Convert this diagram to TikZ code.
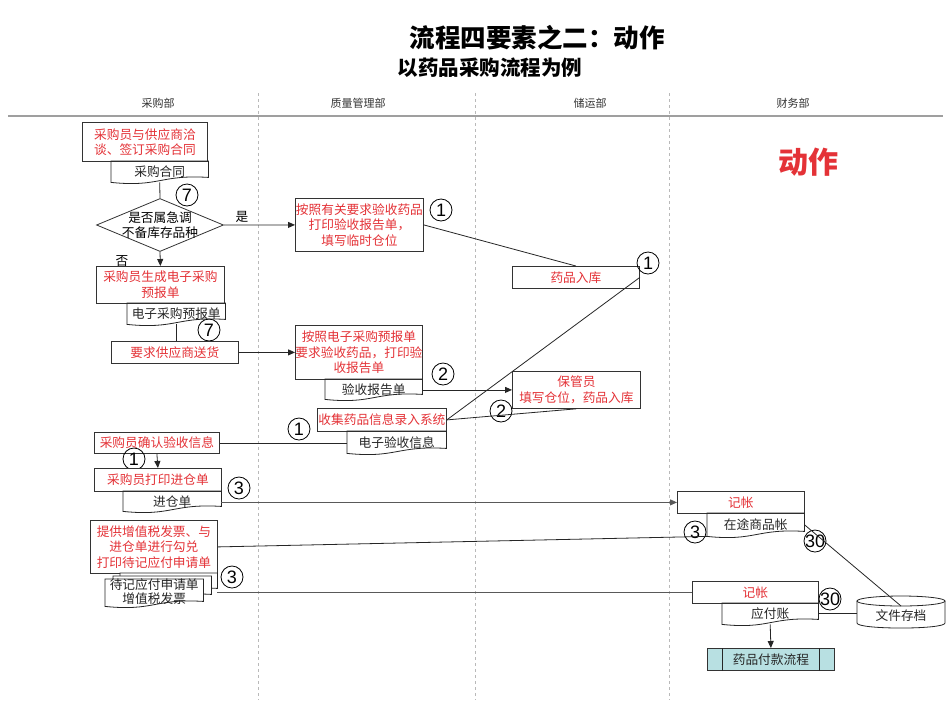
\documentclass[tikz,border=0pt]{standalone}
\usepackage{fontspec}
\newfontfamily\cjk{Noto Sans CJK SC}
\newfontfamily\arial{Liberation Sans}
\usetikzlibrary{shapes.geometric,arrows.meta,calc}
\definecolor{txtred}{RGB}{228,50,55}
\definecolor{procfill}{RGB}{184,224,226}
\newcommand\docout[2][]{\draw[conn,#1] (#2.south west) -- (#2.north west) -- (#2.north east) -- ($(#2.south east)+(0,-5)$) .. controls ($(#2.south east)!0.5!(#2.south west)+(0,-8)$) and ($(#2.south east)!0.5!(#2.south west)+(0,5)$) .. (#2.south west) -- cycle;}
\begin{document}
\begin{tikzpicture}[x=1pt,y=-1pt,
  font=\cjk\fontsize{12.7}{15.5}\selectfont,
  conn/.style={draw=black!85,line width=0.8pt},
  arr/.style={conn,-{Triangle[length=7pt,width=6pt]}},
  box/.style={draw=black!80,line width=0.8pt,fill=white,text=txtred,align=center,inner sep=0pt,anchor=north west},
  docbox/.style={inner sep=0pt,text=black!85,anchor=north west},
  num/.style={circle,draw=black,line width=0.8pt,inner sep=0pt,minimum size=22pt,font=\arial\fontsize{18}{18}\selectfont},
  hdr/.style={font=\cjk\fontsize{11}{13}\selectfont,text=black!80},
  lane/.style={draw=gray!55,line width=0.7pt,dash pattern=on 3pt off 3pt}
]
\useasboundingbox (0,0) rectangle (950,713);
\fill[white] (0,0) rectangle (950,713);

% titles
\node[font=\cjk\bfseries\fontsize{25.5}{28}\selectfont] (title) at (537,38) {流程四要素之二：动作};
\node[font=\cjk\bfseries\fontsize{20.5}{22}\selectfont] (subtitle) at (490,68) {以药品采购流程为例};
\node[text=txtred,font=\cjk\bfseries\fontsize{30}{32}\selectfont] (dz) at (808,162) {动作};

% lanes
\node[hdr] (h1) at (158,103) {采购部};
\node[hdr] (h2) at (358,103) {质量管理部};
\node[hdr] (h3) at (590,103) {储运部};
\node[hdr] (h4) at (793,103) {财务部};
\draw[gray!75,line width=1.6pt] (8,116) -- (943,116);
\foreach \x in {258,475,669} \draw[lane] (\x,93) -- (\x,700);

% purchasing column
\node[box,minimum width=125pt,minimum height=39pt] (A) at (82,122) {采购员与供应商洽\\谈、签订采购合同};
\node[docbox,minimum width=97pt,minimum height=21pt] (a1) at (111,161) {采购合同};
\docout{a1}
\node[num] (n7a) at (187,195) {\makebox[0pt]{7}};
\node[diamond,draw=black!80,line width=0.8pt,inner sep=0pt,minimum width=127pt,minimum height=53pt] (dia) at (160,225) {};
\node[align=center,inner sep=0pt] (diat) at (dia.center) {是否属急调\\不备库存品种};
\node (yes) at (242,217) {是};
\node (no) at (122,261) {否};

\node[box,minimum width=128pt,minimum height=37pt] (C) at (96,266) {采购员生成电子采购\\预报单};
\node[docbox,minimum width=98pt,minimum height=21pt] (c1) at (127,303) {电子采购预报单};
\docout{c1}
\node[num] (n7b) at (209,330) {\makebox[0pt]{7}};
\node[box,minimum width=127pt,minimum height=22pt] (D) at (111,341) {要求供应商送货};

\node[box,minimum width=125pt,minimum height=21pt] (H) at (94,432) {采购员确认验收信息};
\node[num] (n1d) at (134,459) {\makebox[0pt]{1}};
\node[box,minimum width=127pt,minimum height=23pt] (I) at (94,468) {采购员打印进仓单};
\node[docbox,minimum width=98pt,minimum height=20pt] (i1) at (123,491) {进仓单};
\docout{i1}
\node[num] (n3a) at (239,488) {\makebox[0pt]{3}};

\node[box,minimum width=127pt,minimum height=53pt] (J) at (90,520) {提供增值税发票、与\\进仓单进行勾兑\\打印待记应付申请单};
\node[docbox,minimum width=97pt,minimum height=20pt] (mdback) at (120,573) {};
\docout[fill=white]{mdback}
\node[docbox,minimum width=98pt,minimum height=23pt] (mdmid) at (113,576) {};
\docout[fill=white]{mdmid}
\node[docbox,minimum width=98pt,minimum height=27pt] (md) at (105,579) {};
\docout[fill=white]{md}
\node[align=center,inner sep=0pt,text=black!85,font=\cjk\fontsize{12.7}{14}\selectfont] (mdtext) at ($(md.center)+(0,-1)$) {待记应付申请单\\增值税发票};
\node[num] (n3b) at (232,577) {\makebox[0pt]{3}};

% quality column
\node[box,minimum width=128pt,minimum height=53pt] (B) at (295,198) {按照有关要求验收药品\\打印验收报告单，\\填写临时仓位};
\node[num] (n1a) at (441,210) {\makebox[0pt]{1}};
\node[box,minimum width=127pt,minimum height=54pt] (E) at (295,325) {按照电子采购预报单\\要求验收药品，打印验\\收报告单};
\node[docbox,minimum width=97pt,minimum height=20pt] (e1) at (325,379) {验收报告单};
\docout{e1}
\node[num] (n2a) at (443,374) {\makebox[0pt]{2}};
\node[box,minimum width=129pt,minimum height=23pt] (G) at (317,408) {收集药品信息录入系统};
\node[docbox,minimum width=99pt,minimum height=22pt] (g1) at (347,431) {电子验收信息};
\docout{g1}
\node[num] (n1c) at (299,429) {\makebox[0pt]{1}};

% storage column
\node[box,minimum width=127pt,minimum height=22pt] (ruku) at (512,266) {药品入库};
\node[num] (n1b) at (648,263) {\makebox[0pt]{1}};
\node[box,minimum width=128pt,minimum height=37pt] (F) at (512,371) {保管员\\填写仓位，药品入库};
\node[num] (n2b) at (501,411) {\makebox[0pt]{2}};

% finance column
\node[box,minimum width=127pt,minimum height=22pt] (K) at (677,491) {记帐};
\node[docbox,minimum width=97pt,minimum height=23pt] (k1) at (707,513) {在途商品帐};
\docout{k1}
\node[num] (n3c) at (695,532) {\makebox[0pt]{3}};
\node[num] (n30a) at (815,541) {\makebox[0pt]{30}};
\node[box,minimum width=126pt,minimum height=22pt] (L) at (692,581) {记帐};
\node[docbox,minimum width=96pt,minimum height=21pt] (l1) at (722,603) {应付账};
\docout{l1}
\node[num] (n30b) at (830,599) {\makebox[0pt]{30}};
\node[box,text=black!85,fill=procfill,minimum width=127pt,minimum height=22pt] (M) at (707,648) {药品付款流程};
\draw[conn] ($(M.north west)+(15,0)$) -- ($(M.south west)+(15,0)$);
\draw[conn] ($(M.north east)+(-15,0)$) -- ($(M.south east)+(-15,0)$);

% archive cylinder
\node[inner sep=0pt,minimum width=88pt,minimum height=31pt] (arch) at (901,613) {};
\fill[white] (857,601) -- (857,623) .. controls (857,629.7) and (945,629.7) .. (945,623) -- (945,601) -- cycle;
\draw[conn] (857,601) -- (857,623) .. controls (857,629.7) and (945,629.7) .. (945,623) -- (945,601);
\draw[conn,fill=white] (901,601) ellipse [x radius=44pt,y radius=5pt];
\node[inner sep=0pt,text=black!85] (archt) at ($(arch.center)+(0,3)$) {文件存档};

% connectors
\draw[conn] (a1.south) -- (dia.north);
\draw[arr] (dia.east) -- (B.west);
\draw[arr] (dia.south) -- (C.north);
\draw[conn] (c1.south) -- (c1.south |- D.north);
\draw[arr] (D.east) -- (E.west);
\draw[conn] (B.east) -- (ruku.north);
\draw[conn] (ruku.east) -- (G.east);
\draw[arr] (F.west -| e1.east) -- (F.west);
\draw[conn] (F.south) -- (G.east);
\draw[conn] (H.east) -- (H.east -| g1.west);
\draw[arr] (H.south) -- (I.north);
\draw[arr,draw=black!65] (K.west -| i1.east) -- (K.west);
\draw[conn] (J.east) -- (k1.south west);
\draw[conn,draw=black!65] (L.west -| mdback.east) -- (L.west);
\draw[conn] (k1.east) -- ($(arch.center)+(0,-7)$);
\draw[conn] (l1.east) -- (l1.east -| arch.west);
\draw[arr] (l1.south) -- (M.north);
\end{tikzpicture}
\end{document}
